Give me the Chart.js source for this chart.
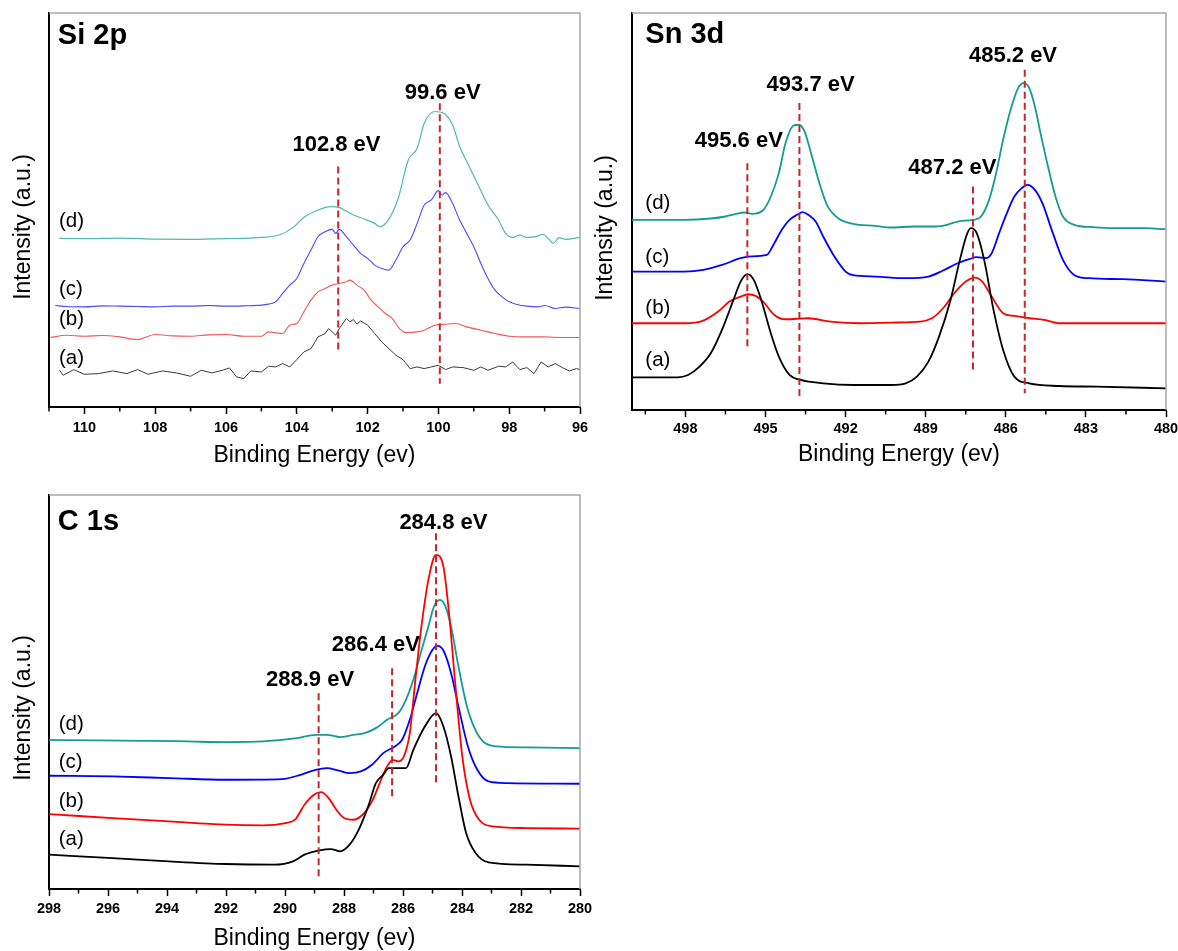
<!DOCTYPE html>
<html>
<head>
<meta charset="utf-8">
<script src="https://cdn.jsdelivr.net/npm/chart.js@4.4.0/dist/chart.umd.min.js"></script>
<style>
  html, body { margin: 0; padding: 0; background: #fff; }
  body { width: 1178px; height: 951px; position: relative; overflow: hidden; }
  canvas { position: absolute; }
</style>
</head>
<body>
<canvas id="si" width="600" height="475" style="left:0;top:0"></canvas>
<canvas id="sn" width="588" height="475" style="left:590px;top:0"></canvas>
<canvas id="c1s" width="610" height="471" style="left:0;top:480px"></canvas>
<script>
// [binding energy (eV), intensity (a.u.)]
const siA = [[110.7,11],[110.6,9.5],[110.3,11.2],[110,9.8],[109.6,10],[109.2,10.8],[108.8,10],[108.5,11.2],[108.2,9.8],[107.8,10.8],[107.4,10.2],[107,9.2],[106.7,11],[106.4,10.2],[106.1,11],[105.9,11.7],[105.7,9],[105.5,8.5],[105.3,10.8],[105,10.5],[104.8,12.2],[104.6,12],[104.4,13],[104.2,12],[104,14.2],[103.8,16.5],[103.6,17.5],[103.4,21],[103.2,22],[103.1,23.5],[103,22.5],[102.9,21.5],[102.8,23.5],[102.6,26.5],[102.5,25.5],[102.4,26.2],[102.3,24.8],[102.2,25.8],[102,24.5],[101.8,22],[101.6,19.5],[101.4,17.5],[101.2,15.5],[101,14.2],[100.8,11.5],[100.6,12],[100.4,11.5],[100.2,12],[100,12.5],[99.8,11.2],[99.6,12],[99.3,11.8],[99,11],[98.8,12],[98.6,11],[98.3,12.2],[98.1,12],[97.9,13.5],[97.7,11.2],[97.5,11.8],[97.3,10],[97.1,13.5],[96.9,12],[96.7,13],[96.5,11.8],[96.3,10.8],[96.1,11.5],[96,11.2]];
const siB = [[110.96,20.8],[110.5,21.5],[110,21.2],[109.5,21.4],[109,21],[108.5,20.2],[108,21.7],[107.5,21.3],[107,21.2],[106.5,21.6],[106,21.7],[105.5,21.2],[105,21.2],[104.8,22.5],[104.4,22],[104.2,24.5],[104,25],[103.8,28.5],[103.6,32],[103.4,34.5],[103.2,35.5],[103,36.5],[102.8,37],[102.6,37.5],[102.5,38],[102.3,36.5],[102.1,35],[101.9,32],[101.7,30],[101.5,28],[101.3,26.5],[101.1,23.5],[100.9,22.3],[100.6,22.5],[100.4,23],[100.1,24.5],[99.8,24.8],[99.5,25],[99.2,24],[98.8,23],[98.4,22],[98,21.2],[97.5,21],[97,21],[96.5,20.8],[96,20.8]];
const siC = [[110.82,30.4],[110.5,30.1],[110,30],[109.5,30.3],[109,30.2],[108.5,30.1],[108,30],[107.5,30.2],[107,30.2],[106.5,30.4],[106,30.2],[105.5,30.3],[105,30.5],[104.8,30.8],[104.6,31.5],[104.4,34],[104.2,36.5],[104,38.5],[103.8,43],[103.6,47],[103.4,51],[103.2,52.5],[103,53.2],[102.9,52],[102.8,53.2],[102.6,51],[102.4,48.5],[102.2,46],[102,44.5],[101.8,42.5],[101.6,41.5],[101.4,41],[101.2,44],[101,48],[100.8,50],[100.6,55],[100.4,60.5],[100.2,62],[100,64.8],[99.9,63.5],[99.8,64.2],[99.6,61],[99.4,56],[99.2,52],[99,48],[98.8,43],[98.6,38.5],[98.4,35],[98.2,33],[98,31.5],[97.8,30.8],[97.5,30.2],[97.2,30],[97,30.4],[96.7,29.5],[96.4,29.9],[96,29.5]];
const siD = [[110.71,50.5],[110,50.4],[109,50.6],[108,50.3],[107,50.2],[106,50.4],[105,50.8],[104.5,51.5],[104.1,53.8],[103.8,56.8],[103.4,59],[103.05,60],[102.8,59.7],[102.4,57.5],[102.1,56.3],[101.8,55],[101.65,54],[101.45,55.5],[101.15,62],[100.85,74],[100.6,77.5],[100.4,85],[100.1,88.5],[99.85,88],[99.6,84.5],[99.4,78],[99.2,73.5],[98.9,67],[98.6,60.5],[98.3,56],[98.1,52],[97.9,50.8],[97.7,51.5],[97.5,50.8],[97.25,51],[97.05,51.7],[96.9,50.5],[96.75,49],[96.6,50.7],[96.4,50.2],[96,50.8]];

const snA = [[500,9.8],[498.3,9.8],[497.9,10.5],[497.47,13],[497.05,17],[496.63,24],[496.2,33],[495.93,38.5],[495.68,40.7],[495.44,39],[495.16,33],[494.8,23],[494.5,16],[494.1,10.5],[493.68,9],[492.84,8],[491.72,7.5],[490.3,7.5],[489.75,8],[489.33,10],[488.9,14.5],[488.5,22],[488.07,33],[487.72,45],[487.44,53],[487.3,54.5],[487.09,53],[486.81,45],[486.46,30],[486.1,18],[485.68,10],[485.12,8],[484,7.2],[482.6,7],[480,6.5]];
const snB = [[500,26],[498,26],[497.33,26.8],[496.77,29.5],[496.35,32.5],[495.93,34],[495.65,34.7],[495.37,34.2],[495.09,32.5],[494.67,28.5],[494.25,27.2],[493.4,27.5],[492.56,26.5],[491.44,26],[490.3,26.2],[489.2,26.5],[488.77,27.5],[488.35,30.5],[487.93,35],[487.5,38.5],[487.16,39.7],[486.88,38.5],[486.53,34],[486.1,29],[485.68,28.2],[485.12,27.5],[484.56,27],[484,26],[482.6,26],[480,26]];
const snC = [[500,41.5],[498.04,41.5],[497.33,42],[496.63,43.5],[495.93,45.5],[495.65,46],[494.95,46.5],[494.67,50],[494.39,54],[494.1,57],[493.82,58.5],[493.61,59.3],[493.4,58.5],[493.12,56.5],[492.84,52],[492.42,46],[492,41.5],[491.72,40.4],[490.88,40],[489.75,39.5],[488.9,40],[488.35,41.8],[487.8,44],[487.37,45.2],[487.09,45.8],[486.74,45.5],[486.53,47],[486.25,53],[485.96,59],[485.68,64],[485.4,66.5],[485.19,67.5],[484.91,66],[484.63,62],[484.28,54],[483.86,45],[483.44,40.5],[482.88,39.5],[481.61,39.2],[480,38.5]];
const snD = [[500,57],[498.04,57],[497.05,57.4],[496.5,58],[496.14,58.7],[495.8,59.2],[495.5,58.8],[495.1,59.8],[494.8,64],[494.5,71],[494.25,80],[493.96,85.2],[493.75,85.5],[493.54,83.5],[493.26,76],[492.98,68],[492.7,61.5],[492.28,57.5],[491.72,55.8],[490.88,55.2],[490.3,54.7],[489.47,55],[488.63,55],[488.2,55.5],[487.8,56.5],[487.23,57],[486.95,57.8],[486.67,62],[486.39,70],[486.1,81],[485.82,90],[485.54,96.5],[485.33,98],[485.12,96.5],[484.91,91],[484.7,83],[484.42,73],[484.14,64],[483.86,58],[483.44,55.5],[482.74,54.8],[481.9,54.5],[480.77,54.5],[480,54.2]];

const cA = [[298,10.3],[295.85,9.3],[293.93,8.3],[292,7.5],[290.36,7.3],[289.73,8.3],[289.34,10.3],[288.83,11.6],[288.45,12],[288.13,11.3],[287.81,13.3],[287.5,17.8],[287.18,24.8],[286.92,31.8],[286.67,34.3],[286.48,36.3],[286.16,36.3],[285.9,36.3],[285.65,41.8],[285.26,48.8],[284.88,52.8],[284.63,48.8],[284.37,39.8],[284.12,27.8],[283.86,16.8],[283.54,10.8],[283.1,8],[281.82,7.3],[280,6.8]];
const cB = [[298,22.5],[297.12,22],[295.85,21.3],[293.93,20.3],[292,19.3],[290.75,19.1],[289.98,19.8],[289.66,20.8],[289.34,25.3],[289.02,28.3],[288.77,29.1],[288.52,27.3],[288.26,23.8],[288,21.3],[287.69,20.8],[287.37,22.3],[287.05,26.3],[286.79,31.8],[286.54,36.8],[286.35,38.8],[286.16,38.3],[285.97,39.8],[285.77,46.8],[285.58,62.8],[285.39,77.8],[285.14,92.8],[284.88,100.3],[284.63,96.8],[284.44,82.8],[284.24,62.8],[283.99,39.8],[283.73,26.8],[283.42,20.8],[282.97,18.8],[281.82,18.3],[280,18.1]];
const cC = [[298,34],[295.85,33.8],[293.93,33.3],[292,32.8],[290.1,33],[289.47,34.3],[288.96,35.8],[288.58,36.3],[288.2,35.6],[287.81,34.8],[287.43,35.3],[287.05,37.3],[286.67,40.8],[286.28,42.8],[286.03,44.8],[285.77,50.8],[285.52,58.8],[285.26,66.8],[285,71.8],[284.84,73],[284.63,71.6],[284.37,64.8],[284.12,54.8],[283.8,42.8],[283.48,35.8],[283.1,32.3],[282.46,31.8],[280,31.6]];
const cD = [[298,44.8],[296.48,44.6],[294.57,44.5],[293.3,44.3],[292,44.1],[290.75,44.3],[289.6,45.3],[288.96,46.3],[288.58,46.3],[288.13,45.6],[287.69,46.3],[287.3,46.8],[286.92,48.3],[286.54,50.8],[286.16,52.8],[285.9,56.8],[285.65,62.8],[285.4,70.8],[285.14,78.8],[284.95,84.8],[284.75,86.8],[284.56,84.8],[284.37,78.8],[284.12,66.8],[283.86,55.8],[283.6,48.8],[283.29,44.3],[282.84,42.8],[281.82,42.5],[280,42.3]];

// peak markers: [energy, intensity from, intensity to]
const siMarks = [[102.83,72,16.5],[99.96,91,7]];
const snMarks = [[495.68,74,18.5],[493.73,92,4],[487.23,67,11.5],[485.29,102,5]];
const cMarks = [[288.86,58.8,3.8],[286.37,66.3,27.3],[284.88,106.8,31.3]];

const siPeakLabels = ['102.8 eV', '99.6 eV'];
const snPeakLabels = ['495.6 eV', '493.7 eV', '487.2 eV', '485.2 eV'];
const cPeakLabels = ['288.9 eV', '286.4 eV', '284.8 eV'];
const sampleNames = ['(a)', '(b)', '(c)', '(d)'];

const siTicks = [110, 108, 106, 104, 102, 100, 98, 96];
const siMinor = [111, 109, 107, 105, 103, 101, 99, 97];
const snTicks = [498, 495, 492, 489, 486, 483, 480];
const snMinor = [499.5, 496.5, 493.5, 490.5, 487.5, 484.5, 481.5];
const cTicks = [298, 296, 294, 292, 290, 288, 286, 284, 282, 280];
const cMinor = [297, 295, 293, 291, 289, 287, 285, 283, 281];

const FONT = "'Liberation Sans', Arial, Helvetica, sans-serif";
Chart.defaults.font.family = FONT;
Chart.defaults.color = '#000';

const panelDecor = {
  id: 'panelDecor',
  afterDraw(chart, args, o) {
    const { ctx, chartArea: a, scales: { x, y } } = chart;
    ctx.save();
    ctx.strokeStyle = '#a8a8a8';
    ctx.lineWidth = 1.5;
    ctx.beginPath();
    ctx.moveTo(a.left, a.top);
    ctx.lineTo(a.right, a.top);
    ctx.lineTo(a.right, a.bottom);
    ctx.stroke();

    ctx.strokeStyle = '#000';
    o.minor.forEach(v => {
      const px = x.getPixelForValue(v);
      ctx.beginPath();
      ctx.moveTo(px, a.bottom);
      ctx.lineTo(px, a.bottom + 4.5);
      ctx.stroke();
    });

    ctx.fillStyle = '#000';
    ctx.textBaseline = 'middle';
    ctx.textAlign = 'left';
    ctx.font = 'bold 29px ' + FONT;
    ctx.fillText(o.title, x.getPixelForValue(o.titleAt[0]), y.getPixelForValue(o.titleAt[1]));

    ctx.textAlign = 'center';
    ctx.font = 'bold 22px ' + FONT;
    o.peaks.forEach((t, i) => {
      ctx.fillText(t, x.getPixelForValue(o.peakAt[i][0]), y.getPixelForValue(o.peakAt[i][1]));
    });

    ctx.textAlign = 'left';
    ctx.font = '20.5px ' + FONT;
    sampleNames.forEach((t, i) => {
      ctx.fillText(t, x.getPixelForValue(o.sampleX), y.getPixelForValue(o.sampleY[i]));
    });

    ctx.translate(o.yTitle[0], o.yTitle[1]);
    ctx.rotate(-Math.PI / 2);
    ctx.textAlign = 'center';
    ctx.font = '23px ' + FONT;
    ctx.fillText('Intensity (a.u.)', 0, 0);
    ctx.restore();
  }
};

function makePanel(id, p) {
  const datasets = [];
  p.marks.forEach(m => {
    datasets.push({
      data: [{ x: m[0], y: m[1] }, { x: m[0], y: m[2] }],
      borderColor: '#c3262c', borderWidth: 2, borderDash: [7, 4],
      pointRadius: 0, order: 0
    });
  });
  p.series.forEach(s => {
    datasets.push({
      data: s.data.map(d => ({ x: d[0], y: d[1] })),
      borderColor: s.color, borderWidth: s.width,
      cubicInterpolationMode: s.smooth ? 'monotone' : 'default',
      tension: 0, pointRadius: 0, order: 1
    });
  });

  return new Chart(document.getElementById(id), {
    type: 'line',
    data: { datasets },
    plugins: [panelDecor],
    options: {
      responsive: false,
      animation: false,
      devicePixelRatio: 1,
      layout: { padding: { top: p.padTop, right: p.padRight, left: 0, bottom: 0 } },
      plugins: {
        legend: { display: false },
        tooltip: { enabled: false },
        panelDecor: p.decor
      },
      scales: {
        x: {
          type: 'linear', reverse: true, min: p.xMin, max: p.xMax,
          afterBuildTicks: s => { s.ticks = p.ticks.map(v => ({ value: v })); },
          afterFit: s => { s.height = p.xAxisH; s.paddingLeft = 0; s.paddingRight = 0; },
          ticks: {
            autoSkip: false, maxRotation: 0, padding: p.tickPad, color: '#000',
            font: { size: 14.5, weight: 'bold' }
          },
          grid: { display: true, drawOnChartArea: false, drawTicks: true, tickLength: 7, tickWidth: 1.5, tickColor: '#000' },
          border: { display: true, color: '#000', width: 2 },
          title: {
            display: true, text: 'Binding Energy (ev)', color: '#000',
            font: { size: 23, lineHeight: 1 }, padding: { top: 0, bottom: p.titlePad }
          }
        },
        y: {
          min: 0, max: p.yMax,
          afterFit: s => { s.width = p.yAxisW; },
          ticks: { display: false },
          grid: { display: false },
          border: { display: true, color: '#000', width: 2 }
        }
      }
    }
  });
}

makePanel('si', {
  xMin: 96, xMax: 111, yMax: 118, ticks: siTicks,
  padTop: 13, padRight: 20, yAxisW: 49, xAxisH: 68, tickPad: 5, titlePad: 7.5,
  marks: siMarks,
  series: [
    { data: siA, color: '#3a3a3a', width: 1, smooth: false },
    { data: siB, color: '#f25757', width: 1.1, smooth: true },
    { data: siC, color: '#4a4aff', width: 1.1, smooth: true },
    { data: siD, color: '#4cbab2', width: 1.2, smooth: true }
  ],
  decor: {
    minor: siMinor, title: 'Si 2p', titleAt: [110.75, 111],
    peaks: siPeakLabels, peakAt: [[102.88, 78.5], [99.88, 94.2]],
    sampleX: 110.72, sampleY: [14.5, 26.2, 35.2, 55.5],
    yTitle: [24, 227]
  }
});

makePanel('sn', {
  xMin: 480, xMax: 500, yMax: 119, ticks: snTicks,
  padTop: 13, padRight: 12, yAxisW: 42, xAxisH: 65, tickPad: 3.6, titlePad: 8.5,
  marks: snMarks,
  series: [
    { data: snA, color: '#000000', width: 1.8, smooth: true },
    { data: snB, color: '#ff0000', width: 1.8, smooth: true },
    { data: snC, color: '#0000ff', width: 1.8, smooth: true },
    { data: snD, color: '#139b94', width: 1.8, smooth: true }
  ],
  decor: {
    minor: snMinor, title: 'Sn 3d', titleAt: [499.5, 112.5],
    peaks: snPeakLabels, peakAt: [[496.0, 80.8], [493.31, 97.5], [488.0, 72.5], [485.73, 106]],
    sampleX: 499.5, sampleY: [15, 30.5, 45.8, 61.8],
    yTitle: [16, 228]
  }
});

makePanel('c1s', {
  xMin: 280, xMax: 298, yMax: 118.3, ticks: cTicks,
  padTop: 15, padRight: 30, yAxisW: 49, xAxisH: 62, tickPad: 4.3, titlePad: 0.5,
  marks: cMarks,
  series: [
    { data: cA, color: '#000000', width: 1.8, smooth: true },
    { data: cB, color: '#ff0000', width: 1.8, smooth: true },
    { data: cC, color: '#0000ff', width: 1.8, smooth: true },
    { data: cD, color: '#139b94', width: 1.8, smooth: true }
  ],
  decor: {
    minor: cMinor, title: 'C 1s', titleAt: [297.7, 110.3],
    peaks: cPeakLabels, peakAt: [[289.15, 62.8], [286.92, 73.3], [284.63, 109.8]],
    sampleX: 297.67, sampleY: [14.8, 26.3, 38, 49.3],
    yTitle: [24, 228]
  }
});
</script>
</body>
</html>
